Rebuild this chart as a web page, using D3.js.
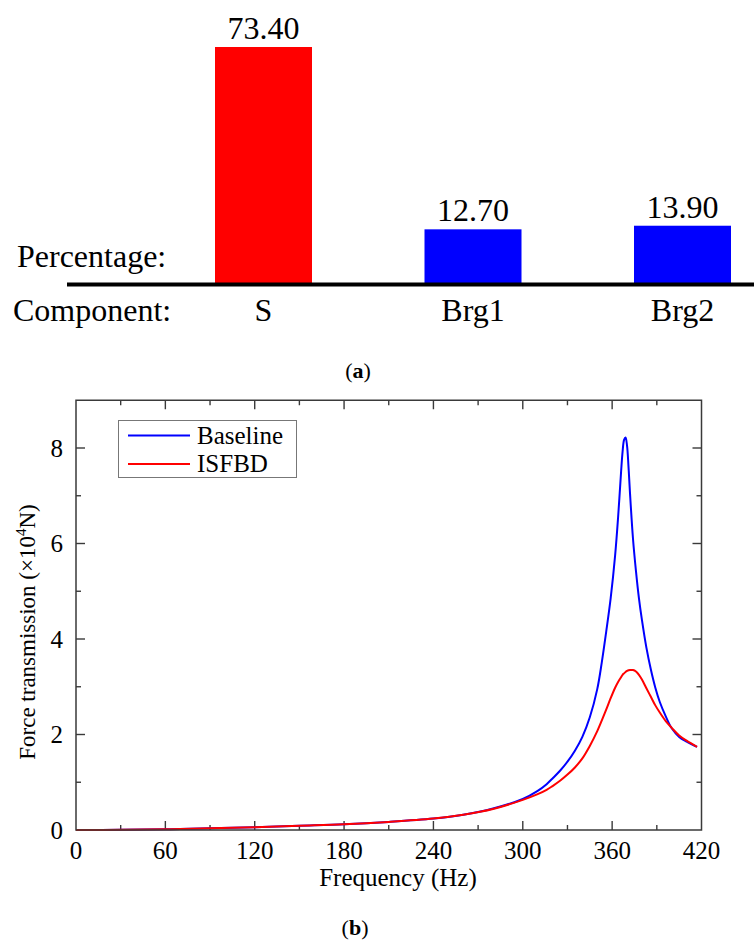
<!DOCTYPE html>
<html>
<head>
<meta charset="utf-8">
<script src="https://cdn.jsdelivr.net/npm/d3@7"></script>
<style>
  html, body { margin: 0; padding: 0; background: #fff; }
  svg { display: block; }
</style>
</head>
<body>
<script>
// ---- (a) contribution of each component ----
const components = ["S", "Brg1", "Brg2"];
const percentages = [73.40, 12.70, 13.90];
const barColors = ["#ff0000", "#0000ff", "#0000ff"];

// ---- (b) force transmission vs. frequency ----
const frequencies = [0, 30, 60, 90, 120, 150, 180, 210, 240, 260, 280, 300, 310, 316, 320, 325, 330, 335, 340, 345, 350, 353, 356, 359, 362, 364, 366, 367, 368, 369, 370, 371, 372, 374, 376, 378, 380, 383, 386, 389, 392, 396, 400, 405, 410, 417];
const baseline = [0, 0.004, 0.015, 0.035, 0.06, 0.09, 0.12, 0.17, 0.24, 0.32, 0.45, 0.65, 0.82, 0.96, 1.08, 1.24, 1.43, 1.66, 1.95, 2.36, 2.95, 3.5, 4.15, 4.85, 5.75, 6.55, 7.5, 7.92, 8.17, 8.22, 8.05, 7.6, 7.05, 6.1, 5.42, 4.85, 4.4, 3.82, 3.36, 2.98, 2.68, 2.38, 2.13, 1.95, 1.85, 1.74];
const isfbd = [0, 0.004, 0.015, 0.035, 0.06, 0.09, 0.12, 0.17, 0.24, 0.32, 0.44, 0.63, 0.75, 0.84, 0.92, 1.03, 1.16, 1.31, 1.5, 1.76, 2.07, 2.29, 2.52, 2.76, 2.98, 3.1, 3.2, 3.25, 3.28, 3.31, 3.33, 3.345, 3.35, 3.35, 3.32, 3.25, 3.15, 2.97, 2.79, 2.61, 2.46, 2.28, 2.14, 1.98, 1.87, 1.74];
const seriesNames = ["Baseline", "ISFBD"];
const seriesColors = ["#0000ff", "#ff0000"];
const xTicks = [0, 60, 120, 180, 240, 300, 360, 420];
const yTicks = [0, 2, 4, 6, 8];

const W = 754, H = 944;
const serif = "'Liberation Serif', 'Times New Roman', Times, serif";
const svg = d3.select("body").append("svg")
  .attr("width", W).attr("height", H)
  .attr("font-family", serif);

/* ===================== panel (a) ===================== */
const xBar = d3.scaleBand().domain(components)
  .range([110.25, 835.75]).paddingInner(0.537).paddingOuter(0.5);
const yBar = d3.scaleLinear().domain([-5.5, 73.4]).range([284, 47]);

const gA = svg.append("g");
gA.selectAll("rect.bar").data(components).join("rect")
  .attr("class", "bar")
  .attr("x", d => xBar(d))
  .attr("width", xBar.bandwidth())
  .attr("y", (d, i) => yBar(percentages[i]))
  .attr("height", (d, i) => yBar.range()[0] - yBar(percentages[i]))
  .attr("fill", (d, i) => barColors[i]);

gA.selectAll("text.val").data(components).join("text")
  .attr("class", "val")
  .attr("x", d => xBar(d) + xBar.bandwidth() / 2)
  .attr("y", (d, i) => yBar(percentages[i]) - 8)
  .attr("text-anchor", "middle")
  .attr("font-family", serif)
  .attr("font-size", 32)
  .text((d, i) => percentages[i].toFixed(2));

gA.append("line")
  .attr("x1", 67).attr("x2", W)
  .attr("y1", 284.5).attr("y2", 284.5)
  .attr("stroke", "#000").attr("stroke-width", 4);

gA.selectAll("text.cat").data(components).join("text")
  .attr("class", "cat")
  .attr("x", d => xBar(d) + xBar.bandwidth() / 2)
  .attr("y", 321)
  .attr("text-anchor", "middle")
  .attr("font-family", serif)
  .attr("font-size", 32)
  .text(d => d);

gA.append("text").attr("x", 17).attr("y", 267)
  .attr("font-family", serif).attr("font-size", 32).text("Percentage:");
gA.append("text").attr("x", 13).attr("y", 321)
  .attr("font-family", serif).attr("font-size", 32).text("Component:");

function caption(g, cx, cy, letter) {
  const t = g.append("text").attr("x", cx).attr("y", cy).attr("text-anchor", "middle")
    .attr("font-family", serif).attr("font-size", 22);
  t.append("tspan").attr("font-size", 22).text("(");
  t.append("tspan").attr("font-size", 22).attr("font-weight", "bold").text(letter);
  t.append("tspan").attr("font-size", 22).text(")");
}
caption(gA, 358, 378, "a");

/* ===================== panel (b) ===================== */
const x = d3.scaleLinear().domain([0, 420]).range([76, 701.5]);
const y = d3.scaleLinear().domain([0, 9]).range([830, 400.25]);

const gB = svg.append("g");
const frameColor = "#3a3a3a";

// ticks on all four sides, pointing inward
const majorLen = 9, minorLen = 5;
const xMinor = d3.range(30, 420, 60);
const yMinor = d3.range(1, 9, 2);
const tickStyle = sel => sel.attr("stroke", frameColor).attr("stroke-width", 1.4);

function xTickLines(vals, len) {
  gB.append("g").selectAll("line").data(vals).join("line")
    .attr("x1", d => x(d)).attr("x2", d => x(d))
    .attr("y1", y(0)).attr("y2", y(0) - len).call(tickStyle);
  gB.append("g").selectAll("line").data(vals).join("line")
    .attr("x1", d => x(d)).attr("x2", d => x(d))
    .attr("y1", y(9)).attr("y2", y(9) + len).call(tickStyle);
}
function yTickLines(vals, len) {
  gB.append("g").selectAll("line").data(vals).join("line")
    .attr("y1", d => y(d)).attr("y2", d => y(d))
    .attr("x1", x(0)).attr("x2", x(0) + len).call(tickStyle);
  gB.append("g").selectAll("line").data(vals).join("line")
    .attr("y1", d => y(d)).attr("y2", d => y(d))
    .attr("x1", x(420)).attr("x2", x(420) - len).call(tickStyle);
}
xTickLines(xTicks.slice(1, -1), majorLen);
xTickLines(xMinor, minorLen);
yTickLines(yTicks.slice(1), majorLen);
yTickLines(yMinor, minorLen);

// response curves
const line = d3.line()
  .x((d, i) => x(frequencies[i]))
  .y(d => y(d))
  .curve(d3.curveCatmullRom.alpha(0.5));

[baseline, isfbd].forEach((vals, k) => {
  gB.append("path")
    .datum(vals)
    .attr("d", line)
    .attr("fill", "none")
    .attr("stroke", seriesColors[k])
    .attr("stroke-width", 2);
});

// frame
gB.append("rect")
  .attr("x", x(0)).attr("y", y(9))
  .attr("width", x(420) - x(0)).attr("height", y(0) - y(9))
  .attr("fill", "none").attr("stroke", frameColor).attr("stroke-width", 1.5);

// tick labels
gB.append("g").selectAll("text").data(xTicks).join("text")
  .attr("x", d => x(d)).attr("y", 859)
  .attr("text-anchor", "middle")
  .attr("font-family", serif).attr("font-size", 25)
  .text(d => d);
gB.append("g").selectAll("text").data(yTicks).join("text")
  .attr("x", 63).attr("y", d => y(d) + 8.5)
  .attr("text-anchor", "end")
  .attr("font-family", serif).attr("font-size", 25)
  .text(d => d);

// axis titles
gB.append("text").attr("x", 398).attr("y", 886).attr("text-anchor", "middle")
  .attr("font-family", serif).attr("font-size", 25).text("Frequency (Hz)");
const yTitle = gB.append("text")
  .attr("transform", "translate(35,632) rotate(-90)")
  .attr("text-anchor", "middle")
  .attr("font-family", serif).attr("font-size", 23);
yTitle.append("tspan").text("Force transmission (\u00d710");
yTitle.append("tspan").attr("dy", -9).attr("font-size", 15).text("4");
yTitle.append("tspan").attr("dy", 9).text("N)");

// legend
const lg = gB.append("g");
lg.append("rect").attr("x", 118.5).attr("y", 420.5).attr("width", 178).attr("height", 57)
  .attr("fill", "#fff").attr("stroke", "#777").attr("stroke-width", 1);
seriesNames.forEach((name, k) => {
  const ly = 435.5 + k * 28.5;
  lg.append("line").attr("x1", 128).attr("x2", 190).attr("y1", ly).attr("y2", ly)
    .attr("stroke", seriesColors[k]).attr("stroke-width", 2);
  lg.append("text").attr("x", 197).attr("y", ly + 8)
    .attr("font-family", serif).attr("font-size", 25).text(name);
});

caption(gB, 355, 935, "b");
</script>
</body>
</html>
